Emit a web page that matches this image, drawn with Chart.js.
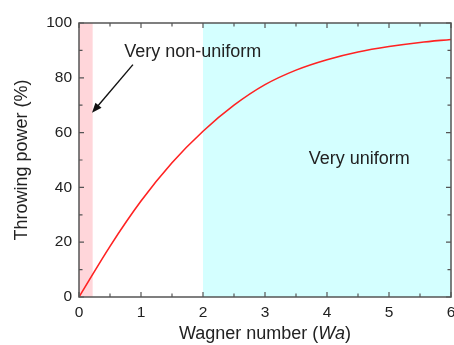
<!DOCTYPE html>
<html>
<head>
<meta charset="utf-8">
<script src="https://cdn.jsdelivr.net/npm/chart.js@4/dist/chart.umd.min.js"></script>
<style>
  html, body { margin: 0; padding: 0; background: #fff; }
  #wrap { width: 454px; height: 345px; position: relative; }
</style>
</head>
<body>
<div id="wrap"><canvas id="tpChart"></canvas></div>
<script>
// values
const wa = [0, 0.5, 1, 1.5, 2, 2.5, 3, 3.5, 4, 4.5, 5, 5.5, 6];
const throwingPower = [0, 18.5, 35, 49, 60.5, 70, 77.5, 82.8, 86.6, 89.4, 91.4, 92.9, 94.0];
const xTicks = [0, 1, 2, 3, 4, 5, 6];
const yTicks = [0, 20, 40, 60, 80, 100];

// shaded regions (Wa from..to)
const nonUniformBand = [0, 0.22];
const uniformBand = [2, 6];

// annotations, in data units
const nonUniformLabel = { text: 'Very non-uniform', x: 0.73, y: 89.5 };
const nonUniformArrow = { from: [0.87, 84.8], to: [0.21, 67.2] };
const uniformLabel = { text: 'Very uniform', x: 4.52, y: 50.3 };

const ink = '#222';
const axisColor = '#555';
const font = 'Liberation Sans, Arial, sans-serif';

const decor = {
  id: 'decor',
  beforeDraw(chart) {
    const { ctx, chartArea: a, scales: { x } } = chart;
    ctx.save();
    ctx.fillStyle = '#FFD6DA';
    ctx.fillRect(x.getPixelForValue(nonUniformBand[0]), a.top, x.getPixelForValue(nonUniformBand[1]) - x.getPixelForValue(nonUniformBand[0]), a.bottom - a.top);
    ctx.fillStyle = '#D4FFFF';
    ctx.fillRect(x.getPixelForValue(uniformBand[0]), a.top, x.getPixelForValue(uniformBand[1]) - x.getPixelForValue(uniformBand[0]), a.bottom - a.top);
    ctx.restore();
  },
  afterDraw(chart) {
    const { ctx, chartArea: a, scales: { x, y } } = chart;
    ctx.save();

    // frame + inward ticks
    ctx.strokeStyle = axisColor;
    ctx.lineWidth = 1.5;
    ctx.strokeRect(a.left, a.top, a.right - a.left, a.bottom - a.top);
    ctx.lineWidth = 1.2;
    ctx.beginPath();
    for (let v = 0; v <= 6; v += 0.5) {
      const px = x.getPixelForValue(v);
      const len = Number.isInteger(v) ? 5 : 3.5;
      ctx.moveTo(px, a.bottom); ctx.lineTo(px, a.bottom - len);
      ctx.moveTo(px, a.top); ctx.lineTo(px, a.top + len);
    }
    for (let v = 0; v <= 100; v += 10) {
      const py = y.getPixelForValue(v);
      const len = v % 20 === 0 ? 5 : 3.5;
      ctx.moveTo(a.left, py); ctx.lineTo(a.left + len, py);
      ctx.moveTo(a.right, py); ctx.lineTo(a.right - len, py);
    }
    ctx.stroke();

    // annotations
    ctx.fillStyle = ink;
    ctx.font = '18px ' + font;
    ctx.textBaseline = 'middle';
    ctx.textAlign = 'left';
    ctx.fillText(nonUniformLabel.text, x.getPixelForValue(nonUniformLabel.x), y.getPixelForValue(nonUniformLabel.y));
    ctx.textAlign = 'center';
    ctx.fillText(uniformLabel.text, x.getPixelForValue(uniformLabel.x), y.getPixelForValue(uniformLabel.y));

    const x1 = x.getPixelForValue(nonUniformArrow.from[0]), y1 = y.getPixelForValue(nonUniformArrow.from[1]);
    const x2 = x.getPixelForValue(nonUniformArrow.to[0]), y2 = y.getPixelForValue(nonUniformArrow.to[1]);
    const ang = Math.atan2(y2 - y1, x2 - x1);
    ctx.strokeStyle = '#111';
    ctx.lineWidth = 1.4;
    ctx.beginPath();
    ctx.moveTo(x1, y1);
    ctx.lineTo(x2 - 6 * Math.cos(ang), y2 - 6 * Math.sin(ang));
    ctx.stroke();
    ctx.fillStyle = '#111';
    ctx.beginPath();
    ctx.moveTo(x2, y2);
    ctx.lineTo(x2 - 10 * Math.cos(ang) + 4 * Math.sin(ang), y2 - 10 * Math.sin(ang) - 4 * Math.cos(ang));
    ctx.lineTo(x2 - 10 * Math.cos(ang) - 4 * Math.sin(ang), y2 - 10 * Math.sin(ang) + 4 * Math.cos(ang));
    ctx.closePath();
    ctx.fill();

    // x title with italic Wa
    const cx = (a.left + a.right) / 2, ty = 334;
    const parts = [['Wagner number (', ''], ['Wa', 'italic '], [')', '']];
    let total = 0;
    parts.forEach(p => { ctx.font = p[1] + '18px ' + font; total += ctx.measureText(p[0]).width; });
    let px = cx - total / 2;
    ctx.fillStyle = ink;
    ctx.textAlign = 'left';
    parts.forEach(p => {
      ctx.font = p[1] + '18px ' + font;
      ctx.fillText(p[0], px, ty);
      px += ctx.measureText(p[0]).width;
    });
    ctx.restore();
  }
};

new Chart(document.getElementById('tpChart'), {
  type: 'line',
  data: {
    datasets: [{
      label: 'Throwing power',
      data: wa.map((w, i) => ({ x: w, y: throwingPower[i] })),
      borderColor: '#FF2222',
      borderWidth: 1.6,
      pointRadius: 0,
      cubicInterpolationMode: 'monotone',
      fill: false
    }]
  },
  options: {
    responsive: true,
    maintainAspectRatio: false,
    animation: false,
    layout: { padding: { top: 23, right: 3, left: 0, bottom: 0 } },
    plugins: { legend: { display: false }, tooltip: { enabled: false } },
    scales: {
      x: {
        type: 'linear', min: 0, max: 6,
        afterBuildTicks: s => { s.ticks = xTicks.map(v => ({ value: v })); },
        afterFit: s => { s.height = 48; s.paddingLeft = 0; s.paddingRight = 0; },
        ticks: { color: ink, font: { family: font, size: 15.5 }, padding: 6, maxRotation: 0 },
        grid: { display: false, drawTicks: false },
        border: { display: false }
      },
      y: {
        min: 0, max: 100,
        afterBuildTicks: s => { s.ticks = yTicks.map(v => ({ value: v })); },
        afterFit: s => { s.width = 79; },
        ticks: { color: ink, font: { family: font, size: 15.5 }, padding: 7 },
        grid: { display: false, drawTicks: false },
        border: { display: false },
        title: { display: true, text: 'Throwing power (%)', color: ink, font: { family: font, size: 18 }, padding: { top: 11, bottom: 0 } }
      }
    }
  },
  plugins: [decor]
});
</script>
</body>
</html>
